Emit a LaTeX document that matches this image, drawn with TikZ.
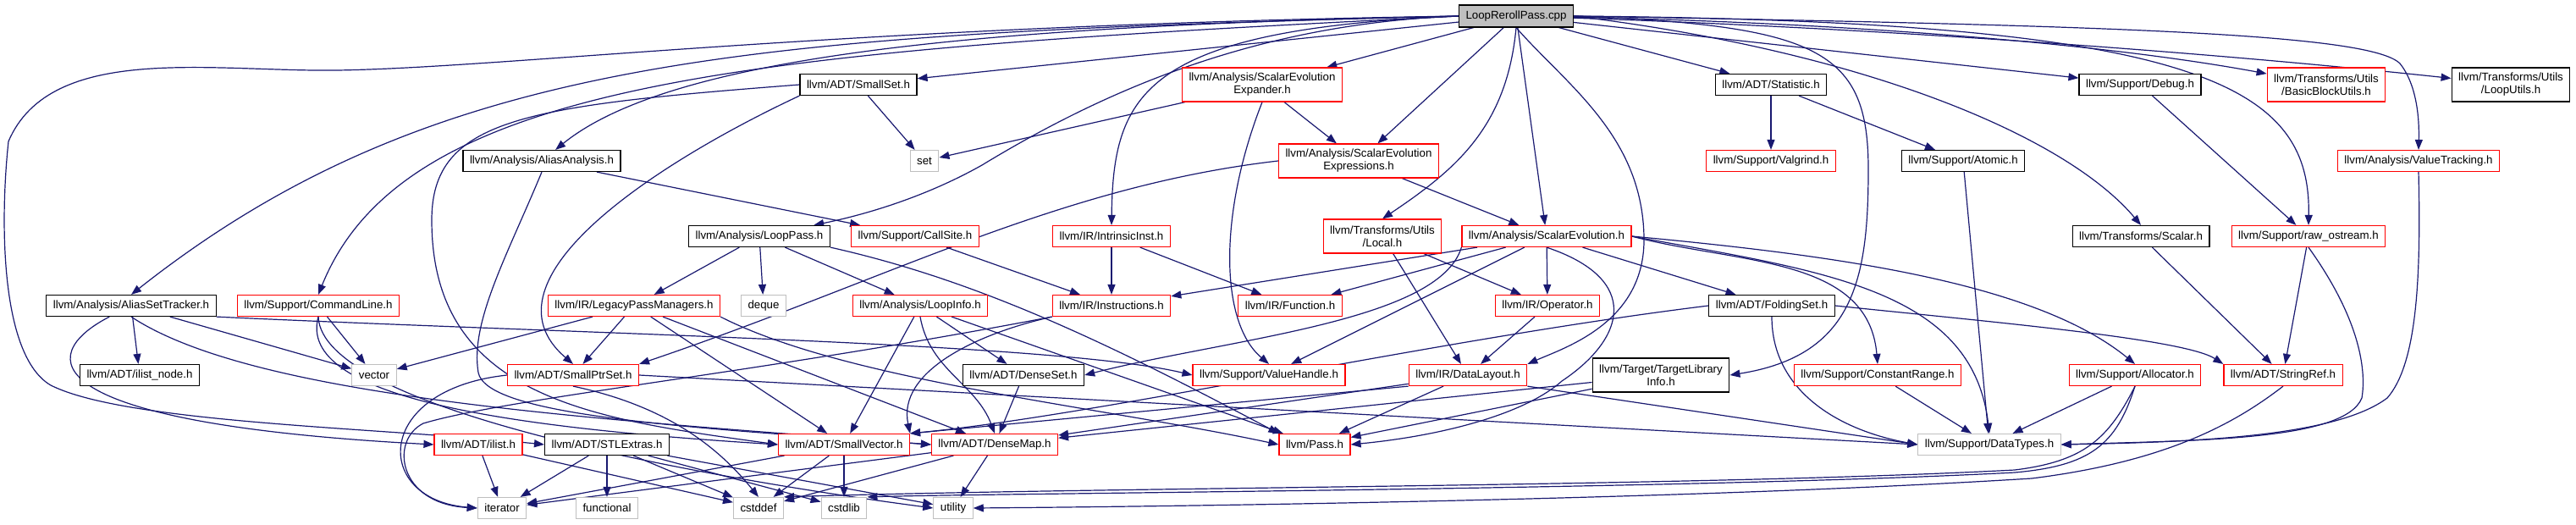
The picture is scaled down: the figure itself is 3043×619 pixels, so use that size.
\documentclass[tikz,border=0pt]{standalone}
\usepackage{fontspec}
\setmainfont{Liberation Sans}
\usetikzlibrary{arrows.meta}
\definecolor{edgeblue}{RGB}{25,25,112}
\definecolor{sysgray}{RGB}{191,191,191}
\pgfdeclarelayer{bg}
\pgfsetlayers{bg,main}
\tikzset{
  hdr/.style={draw=black, fill=white, line width=1.2pt, inner xsep=8pt, inner ysep=2pt,
              minimum height=25pt, align=center, font=\fontsize{13.3}{15}\selectfont},
  hdrred/.style={hdr, draw=red},
  hdrsys/.style={hdr, draw=sysgray},
  hdrtwo/.style={minimum height=40pt},
  hdrroot/.style={hdr, fill=sysgray, minimum height=26pt},
  dep/.style={-{Triangle[length=12pt,width=9pt]}, edgeblue, line width=1.2pt},
}
\begin{document}
\begin{tikzpicture}[x=1pt, y=-1pt]
  \useasboundingbox (0,0) rectangle (3043,619);
  % rank 0 and 1
  \node[hdrroot] (root) at (1791,19) {LoopRerollPass.cpp};
  \node[hdr] (smallset) at (1014,100) {llvm/ADT/SmallSet.h};
  \node[hdrred, hdrtwo] (expander) at (1491,100) {llvm/Analysis/ScalarEvolution\\Expander.h};
  \node[hdr] (statistic) at (2092,100) {llvm/ADT/Statistic.h};
  \node[hdr] (debug) at (2528,100) {llvm/Support/Debug.h};
  \node[hdrred, hdrtwo] (bbutils) at (2748,100) {llvm/Transforms/Utils\\/BasicBlockUtils.h};
  \node[hdr, hdrtwo] (looputils) at (2966,100) {llvm/Transforms/Utils\\/LoopUtils.h};
  % rank 2
  \node[hdr] (aa) at (640,190) {llvm/Analysis/AliasAnalysis.h};
  \node[hdrsys] (set) at (1092,190) {set};
  \node[hdrred, hdrtwo] (expressions) at (1605,190) {llvm/Analysis/ScalarEvolution\\Expressions.h};
  \node[hdrred] (valgrind) at (2092,190) {llvm/Support/Valgrind.h};
  \node[hdr] (atomic) at (2319,190) {llvm/Support/Atomic.h};
  \node[hdrred] (valuetracking) at (2857,190) {llvm/Analysis/ValueTracking.h};
  % rank 3
  \node[hdr] (looppass) at (897,279) {llvm/Analysis/LoopPass.h};
  \node[hdrred] (callsite) at (1081,279) {llvm/Support/CallSite.h};
  \node[hdrred] (intrinsic) at (1313,279) {llvm/IR/IntrinsicInst.h};
  \node[hdrred, hdrtwo] (local) at (1633,279) {llvm/Transforms/Utils\\/Local.h};
  \node[hdrred] (scev) at (1827,279) {llvm/Analysis/ScalarEvolution.h};
  \node[hdr] (scalar) at (2529,279) {llvm/Transforms/Scalar.h};
  \node[hdrred] (rawos) at (2727,279) {llvm/Support/raw\_ostream.h};
  % rank 4
  \node[hdr] (ast) at (155,361) {llvm/Analysis/AliasSetTracker.h};
  \node[hdrred] (cmdline) at (376,361) {llvm/Support/CommandLine.h};
  \node[hdrred] (lpm) at (749,361) {llvm/IR/LegacyPassManagers.h};
  \node[hdrsys] (deque) at (902,361) {deque};
  \node[hdrred] (loopinfo) at (1087,361) {llvm/Analysis/LoopInfo.h};
  \node[hdrred] (instr) at (1313,361) {llvm/IR/Instructions.h};
  \node[hdrred] (function) at (1524,361) {llvm/IR/Function.h};
  \node[hdrred] (operator) at (1828,361) {llvm/IR/Operator.h};
  \node[hdr] (folding) at (2093,361) {llvm/ADT/FoldingSet.h};
  % rank 5
  \node[hdr] (ilistnode) at (165,443) {llvm/ADT/ilist\_node.h};
  \node[hdrsys] (vector) at (442,443) {vector};
  \node[hdrred] (smallptr) at (677,443) {llvm/ADT/SmallPtrSet.h};
  \node[hdr] (denseset) at (1209,443) {llvm/ADT/DenseSet.h};
  \node[hdrred] (valuehandle) at (1499,443) {llvm/Support/ValueHandle.h};
  \node[hdrred] (datalayout) at (1734,443) {llvm/IR/DataLayout.h};
  \node[hdr, hdrtwo] (tli) at (1962,443) {llvm/Target/TargetLibrary\\Info.h};
  \node[hdrred] (crange) at (2218,443) {llvm/Support/ConstantRange.h};
  \node[hdrred] (allocator) at (2522,443) {llvm/Support/Allocator.h};
  \node[hdrred] (stringref) at (2697,443) {llvm/ADT/StringRef.h};
  % rank 6
  \node[hdrred] (ilist) at (565,525) {llvm/ADT/ilist.h};
  \node[hdr] (stlextras) at (717,525) {llvm/ADT/STLExtras.h};
  \node[hdrred] (smallvec) at (997,525) {llvm/ADT/SmallVector.h};
  \node[hdrred] (densemap) at (1175,525) {llvm/ADT/DenseMap.h};
  \node[hdrred] (pass) at (1553,525) {llvm/Pass.h};
  \node[hdrsys] (datatypes) at (2350,525) {llvm/Support/DataTypes.h};
  % rank 7
  \node[hdrsys] (iterator) at (593,600) {iterator};
  \node[hdrsys] (functional) at (717,600) {functional};
  \node[hdrsys] (cstddef) at (896,600) {cstddef};
  \node[hdrsys] (cstdlib) at (997,600) {cstdlib};
  \node[hdrsys] (utility) at (1126,600) {utility};

  \begin{pgfonlayer}{bg}
  % includes of the source file
  \draw[dep] (root) -- (smallset);
  \draw[dep] (root) -- (expander);
  \draw[dep] (root) -- (expressions);
  \draw[dep] (root) -- (statistic);
  \draw[dep] (root) -- (debug);
  \draw[dep] (root) .. controls (2110,25) and (2450,45) .. (bbutils);
  \draw[dep] (root) .. controls (2183,32) and (2574,58) .. (looputils);
  \draw[dep] (root.east) .. controls (2500,30) and (2800,40) .. (2835,75)
                         .. controls (2855,100) and (2858,140) .. (valuetracking.north);
  \draw[dep] (root.east) .. controls (2600,25) and (2730,100) .. (rawos.north);
  \draw[dep] (root.east) .. controls (2200,60) and (2440,160) .. (scalar.north);
  \draw[dep] (root.east) .. controls (2150,30) and (2207,60) .. (2207,200)
                         .. controls (2207,330) and (2190,420) .. (tli.east);
  \draw[dep] (root.south) .. controls (1850,100) and (1940,160) .. (1942,280)
                          .. controls (1944,380) and (1850,410) .. (datalayout.north east);
  \draw[dep] (root) -- (scev);
  \draw[dep] (root.south) .. controls (1780,150) and (1720,200) .. (local.north);
  \draw[dep] (root.west) .. controls (1350,35) and (1315,110) .. (intrinsic.north);
  \draw[dep] (root.west) .. controls (1480,28) and (1300,110) .. (1160,195)
                         .. controls (1080,240) and (1000,258) .. (looppass);
  \draw[dep] (root.west) .. controls (1200,30) and (800,60) .. (aa);
  \draw[dep] (root.west) .. controls (900,40) and (520,60) .. (ast.north);
  \draw[dep] (root.west) .. controls (900,60) and (480,90) .. (cmdline.north);
  \draw[dep] (root.west) .. controls (1000,30) and (600,80) .. (398,83)
                         .. controls (250,85) and (60,50) .. (10,167)
                         .. controls (0,260) and (0,420) .. (60,455)
                         .. controls (150,500) and (450,505) .. (stlextras.west);
  % headers
  \draw[dep] (smallset) -- (set);
  \draw[dep] (smallset.south west) .. controls (780,190) and (560,330) .. (smallptr.north);
  \draw[dep] (smallset.west) .. controls (620,125) and (510,140) .. (510,260)
                             .. controls (510,470) and (700,495) .. (smallvec.west);
  \draw[dep] (expander) -- (set);
  \draw[dep] (expander) -- (expressions);
  \draw[dep] (expander.south) .. controls (1440,250) and (1440,380) .. (valuehandle.north);
  \draw[dep] (expressions) -- (scev);
  \draw[dep] (expressions.west) .. controls (1250,220) and (1050,330) .. (smallptr.north east);
  \draw[dep] (statistic) -- (valgrind);
  \draw[dep] (statistic) -- (atomic);
  \draw[dep] (atomic) -- (datatypes);
  \draw[dep] (debug) -- (rawos);
  \draw[dep] (scalar) -- (stringref);
  \draw[dep] (rawos) -- (stringref);
  \draw[dep] (rawos.south) .. controls (2790,380) and (2795,440) .. (2790,470)
                           .. controls (2770,520) and (2600,520) .. (datatypes.east);
  \draw[dep] (valuetracking.south) .. controls (2860,330) and (2855,430) .. (2820,470)
                                   .. controls (2760,515) and (2600,522) .. (datatypes.east);
  \draw[dep] (aa) -- (callsite);
  \draw[dep] (aa.south) .. controls (600,300) and (555,380) .. (565,440)
                        .. controls (575,490) and (800,505) .. (densemap.west);
  \draw[dep] (ast) -- (ilistnode);
  \draw[dep] ([xshift=75pt]ast.south west) .. controls (40,420) and (40,500) .. (ilist.west);
  \draw[dep] (ast) -- (vector);
  \draw[dep] (ast.south) .. controls (300,470) and (700,495) .. (densemap.west);
  \draw[dep] (ast.south east) .. controls (700,395) and (1250,405) .. (valuehandle.west);
  \draw[dep] (cmdline) -- (vector);
  \draw[dep] (cmdline.south) .. controls (350,470) and (600,505) .. (smallvec.west);
  \draw[dep] (cmdline.south) .. controls (380,480) and (800,560) .. (utility.west);
  \draw[dep] (looppass) -- (lpm);
  \draw[dep] (looppass) -- (deque);
  \draw[dep] (looppass) -- (loopinfo);
  \draw[dep] (looppass.south east) .. controls (1150,330) and (1300,400) .. (pass.north west);
  \draw[dep] (lpm) -- (vector);
  \draw[dep] (lpm) -- (smallptr);
  \draw[dep] (lpm) -- (smallvec);
  \draw[dep] (lpm) -- (densemap);
  \draw[dep] (lpm.south east) .. controls (1000,450) and (1300,480) .. (pass.west);
  \draw[dep] (callsite) -- (instr);
  \draw[dep] (intrinsic) -- (instr);
  \draw[dep] (intrinsic) -- (function);
  \draw[dep] (instr.south west) .. controls (1150,395) and (1060,440) .. (smallvec.north east);
  \draw[dep] (instr.south west) .. controls (900,440) and (600,470) .. (500,500)
                                .. controls (460,520) and (470,595) .. (iterator.west);
  \draw[dep] (loopinfo) -- (smallvec);
  \draw[dep] (loopinfo.south) .. controls (1098,437) and (1153,453) .. (densemap.north);
  \draw[dep] (loopinfo) -- (denseset);
  \draw[dep] (loopinfo) -- (pass);
  \draw[dep] (local) -- (datalayout);
  \draw[dep] (local) -- (operator);
  \draw[dep] (scev) -- (instr);
  \draw[dep] (scev) -- (function);
  \draw[dep] (scev.south west) .. controls (1700,380) and (1450,400) .. (denseset.east);
  \draw[dep] (scev) -- (valuehandle);
  \draw[dep] (scev) -- (operator);
  \draw[dep] (scev.south) .. controls (1940,330) and (1920,400) .. (1845,450)
                          .. controls (1800,490) and (1700,515) .. (pass.east);
  \draw[dep] (scev) -- (folding);
  \draw[dep] (scev.east) .. controls (2052,312) and (2207,302) .. (crange.north);
  \draw[dep] (scev.east) .. controls (2150,300) and (2400,330) .. (allocator.north);
  \draw[dep] (scev.east) .. controls (2150,320) and (2330,340) .. (datatypes.north);
  \draw[dep] (operator) -- (datalayout);
  \draw[dep] (folding.west) .. controls (1700,400) and (1300,490) .. (smallvec.north east);
  \draw[dep] (folding.south) .. controls (2093,464) and (2176,509) .. (datatypes.west);
  \draw[dep] (folding.east) .. controls (2350,380) and (2580,400) .. (stringref.north west);
  \draw[dep] (datalayout.south west) -- (smallvec.north east);
  \draw[dep] (datalayout) -- (densemap);
  \draw[dep] (datalayout) -- (pass);
  \draw[dep] (datalayout.south east) -- (datatypes.west);
  \draw[dep] (tli) -- (pass);
  \draw[dep] (tli) -- (densemap);
  \draw[dep] (crange) -- (datatypes);
  \draw[dep] (allocator) -- (datatypes);
  \draw[dep] (allocator.south) .. controls (2490,520) and (2460,545) .. (2380,555)
                               .. controls (2000,575) and (1300,575) .. (cstddef.north east);
  \draw[dep] (allocator.south) .. controls (2500,525) and (2470,550) .. (2380,558)
                               .. controls (2000,578) and (1200,582) .. (cstdlib.north east);
  \draw[dep] (stringref.south) .. controls (2640,500) and (2560,545) .. (2400,565)
                               .. controls (2000,590) and (1400,598) .. (utility.east);
  \draw[dep] (smallptr.west) .. controls (440,460) and (440,590) .. (iterator.west);
  \draw[dep] (smallptr.south) .. controls (790,480) and (850,530) .. (cstddef.north);
  \draw[dep] (smallptr.east) -- (datatypes.west);
  \draw[dep] (ilist) -- (iterator);
  \draw[dep] (ilist) -- (cstddef);
  \draw[dep] (stlextras) -- (iterator);
  \draw[dep] (stlextras) -- (functional);
  \draw[dep] (stlextras) -- (cstddef);
  \draw[dep] (stlextras) -- (cstdlib);
  \draw[dep] (stlextras) -- (utility);
  \draw[dep] (smallvec) -- (iterator);
  \draw[dep] (smallvec) -- (cstddef);
  \draw[dep] (smallvec) -- (cstdlib);
  \draw[dep] (densemap) -- (iterator);
  \draw[dep] (densemap) -- (cstddef);
  \draw[dep] (densemap) -- (utility);
  \draw[dep] (denseset) -- (densemap);
  \end{pgfonlayer}
\end{tikzpicture}
\end{document}
